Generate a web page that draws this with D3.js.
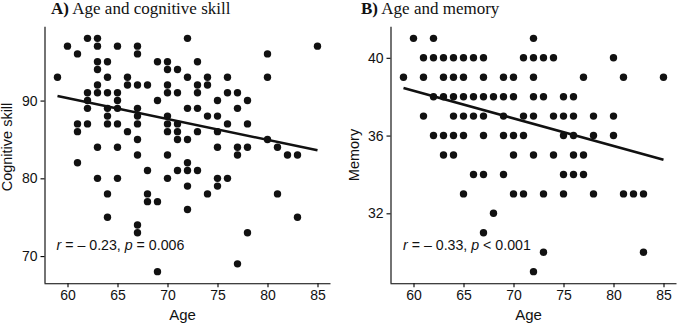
<!DOCTYPE html>
<html><head><meta charset="utf-8">
<script src="https://cdn.jsdelivr.net/npm/d3@7"></script>
<style>
html,body{margin:0;padding:0;background:#fff;}
svg{display:block;}
</style></head>
<body>
<svg id="chart" width="677" height="325"></svg>
<script>
// ---- Data ----
// Panel A: cognitive skill by age; each row: [value, ages...]
const cogRows = [
  [98, [62, 63, 72]],
  [97, [60, 63, 65, 67, 85]],
  [96, [61, 67, 80]],
  [95, [63, 64, 69, 70, 73]],
  [94, [63, 70, 71]],
  [93, [59, 64, 66, 72, 74, 76, 80]],
  [92, [63, 66, 67, 68, 70, 73, 74]],
  [91, [62, 63, 64, 65, 70, 71, 73, 76, 77]],
  [90, [62, 65, 69, 75, 78]],
  [89, [62, 64, 65, 67, 72, 73, 77]],
  [88, [64, 67, 70, 74, 75]],
  [87, [61, 62, 64, 65, 67, 70, 71, 76, 78]],
  [86, [61, 66, 70, 71, 73, 75]],
  [85, [67, 71, 72, 80]],
  [84, [63, 65, 75, 77, 78, 81]],
  [83, [67, 70, 77, 82, 83]],
  [82, [61, 72]],
  [81, [68, 71, 72, 73]],
  [80, [63, 65, 70, 75, 76]],
  [79, [72, 75]],
  [78, [64, 68, 74, 81]],
  [77, [68, 69]],
  [76, [72]],
  [75, [64, 83]],
  [74, [67]],
  [73, [67, 78]],
  [69, [77]],
  [68, [69]]
];
// Panel B: memory by age
const memRows = [
  [41, [60, 62, 72]],
  [40, [61, 62, 63, 64, 65, 66, 67, 71, 72, 73, 74, 80]],
  [39, [59, 61, 63, 64, 65, 67, 69, 70, 72, 77, 81, 85]],
  [38, [62, 63, 64, 65, 66, 67, 68, 69, 70, 72, 73, 75, 76]],
  [37, [61, 64, 65, 66, 67, 69, 71, 72, 74, 75, 76, 78, 80]],
  [36, [62, 63, 64, 65, 67, 69, 70, 71, 75, 76, 78, 80]],
  [35, [63, 64, 70, 72, 74, 76, 77]],
  [34, [66, 67, 69, 75, 76, 77]],
  [33, [65, 70, 71, 73, 75, 78, 81, 82, 83]],
  [32, [68]],
  [31, [67]],
  [30, [73, 83]],
  [29, [72]]
];
const fitA = [[59, 90.6], [85, 83.6]];
const fitB = [[59, 38.45], [85, 34.75]];
const xTicks = [60, 65, 70, 75, 80, 85];
const yTicksA = [70, 80, 90];
const yTicksB = [32, 36, 40];
const titles = ["Age and cognitive skill", "Age and memory"];
const tags = ["A)", "B)"];
const yTitles = ["Cognitive skill", "Memory"];
const statA = {r: "– 0.23", pOp: "=", p: "0.006"};
const statB = {r: "– 0.33", pOp: "<", p: "0.001"};

function flatten(rows){
  const out = [];
  rows.forEach(([v, ages]) => ages.forEach(a => out.push([a, v])));
  return out;
}

const svg = d3.select("#chart");
const SANS = "'Liberation Sans', Arial, Helvetica, sans-serif";
const SERIF = "'Liberation Serif', 'Times New Roman', serif";

function panel(cfg){
  const g = svg.append("g");
  const x = d3.scaleLinear().domain([57.7, 86.3]).range([cfg.left, cfg.left + 286]);
  const y = d3.scaleLinear().domain(cfg.yDomain).range([283.3, 26.7]);

  // axes
  const xAxis = d3.axisBottom(x).tickValues(xTicks).tickSize(4).tickPadding(3);
  const gx = g.append("g").attr("transform", `translate(0,${283.3})`).call(xAxis);
  const yAxis = d3.axisLeft(y).tickValues(cfg.yTicks).tickSize(4).tickPadding(3);
  const gy = g.append("g").attr("transform", `translate(${cfg.left},0)`).call(yAxis);
  [gx, gy].forEach(a => {
    a.select(".domain").attr("stroke", "#000").attr("stroke-width", 1.1);
    a.selectAll(".tick line").attr("stroke", "#000").attr("stroke-width", 1.1);
    a.selectAll(".tick text").attr("fill", "#111").style("font-family", SANS).style("font-size", "14px");
  });
  gx.select(".domain").attr("d", `M${cfg.left},0.5H${cfg.left+286}`);
  gy.select(".domain").attr("d", `M0.5,283.3V26.7`);

  // points
  g.append("g").selectAll("circle").data(flatten(cfg.rows)).join("circle")
    .attr("cx", d => x(d[0])).attr("cy", d => y(d[1])).attr("r", 3.7).attr("fill", "#111");

  // fit line
  g.append("path").datum(cfg.fit)
    .attr("d", d3.line().x(d => x(d[0])).y(d => y(d[1])))
    .attr("stroke", "#111").attr("stroke-width", 2.6).attr("fill", "none");

  // stat text
  const t = g.append("text").attr("x", cfg.statX).attr("y", 250)
    .style("font-family", SANS).style("font-size", "14.2px").attr("fill", "#111");
  t.append("tspan").style("font-style", "italic").text("r");
  t.append("tspan").text(" = " + cfg.stat.r + ", ");
  t.append("tspan").style("font-style", "italic").text("p");
  t.append("tspan").text(" " + cfg.stat.pOp + " " + cfg.stat.p);

  // axis titles
  g.append("text").attr("x", x(71.5)).attr("y", 319.5).attr("text-anchor", "middle")
    .style("font-family", SANS).style("font-size", "15px").attr("fill", "#111").text("Age");
  g.append("text").attr("transform", `translate(${cfg.yTitleX},${cfg.yTitleY}) rotate(-90)`)
    .attr("text-anchor", "middle").style("font-family", SANS).style("font-size", "14.5px")
    .attr("fill", "#111").text(cfg.yTitle);

  // panel title
  const tt = g.append("text").attr("x", cfg.titleX).attr("y", 14)
    .style("font-family", SERIF).style("font-size", "17px").attr("fill", "#111");
  tt.append("tspan").style("font-weight", "bold").text(cfg.tag);
  tt.append("tspan").text(" " + cfg.title);
}

panel({left: 44.5, yDomain: [66.5, 99.5], yTicks: yTicksA, rows: cogRows, fit: fitA,
       stat: statA, statX: 56.5, yTitle: yTitles[0], yTitleX: 12, yTitleY: 147, title: titles[0], tag: tags[0], titleX: 51});
panel({left: 390.5, yDomain: [28.4, 41.6], yTicks: yTicksB, rows: memRows, fit: fitB,
       stat: statB, statX: 403, yTitle: yTitles[1], yTitleX: 359, yTitleY: 155, title: titles[1], tag: tags[1], titleX: 361});
</script>
</body></html>
